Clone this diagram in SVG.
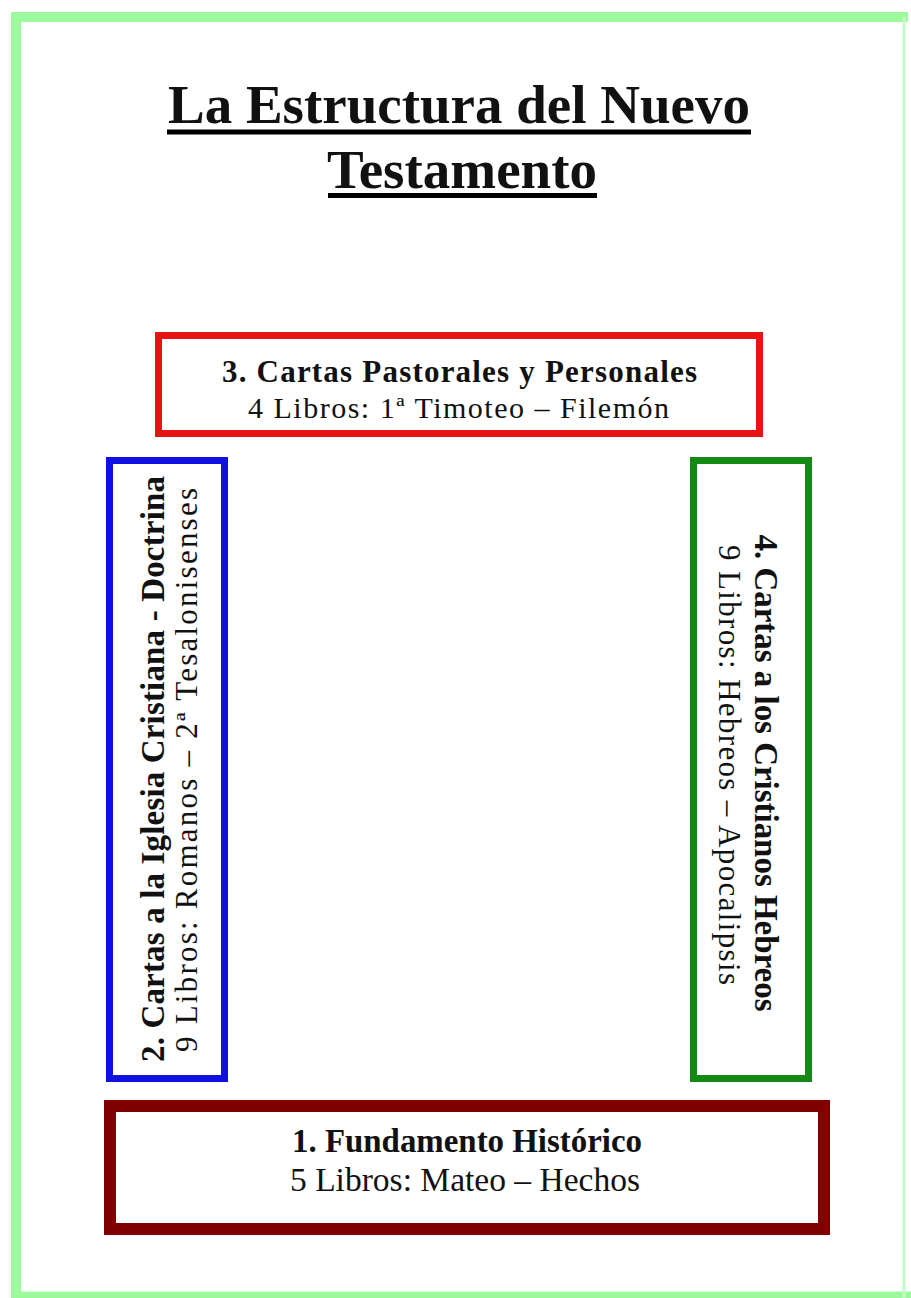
<svg xmlns="http://www.w3.org/2000/svg" width="911" height="1298" viewBox="0 0 911 1298">
<style>
.t{font-family:"Liberation Serif","Times New Roman",serif;fill:#111}
.b{font-weight:bold}
.box{fill:none}
</style>
<rect x="0" y="0" width="911" height="1298" fill="#ffffff"/>
<g id="frame">
<line x1="11" y1="17" x2="908" y2="17" stroke="#9cf99c" stroke-width="10"/>
<line x1="16" y1="12" x2="16" y2="1298" stroke="#9cf99c" stroke-width="10"/>
<line x1="11" y1="1295" x2="911" y2="1295" stroke="#9cf99c" stroke-width="7"/>
<line x1="904" y1="17" x2="904" y2="1298" stroke="#c6fbc6" stroke-width="3"/>
</g>
<g id="title">
<text class="t b" x="459" y="123" font-size="55" text-anchor="middle" fill="#000">La Estructura del Nuevo</text>
<rect x="167" y="129.5" width="584" height="5" fill="#000"/>
<text class="t b" x="462" y="188" font-size="55" text-anchor="middle" fill="#000">Testamento</text>
<rect x="328" y="193" width="269" height="5" fill="#000"/>
</g>
<g id="node3">
<rect class="box" x="158.5" y="335.5" width="601" height="98" stroke="#e81414" stroke-width="7"/>
<text class="t b" x="459.5" y="382" font-size="31" text-anchor="middle" textLength="475" lengthAdjust="spacing">3. Cartas Pastorales y Personales</text>
<text class="t" x="458.5" y="418" font-size="30" text-anchor="middle" textLength="421" lengthAdjust="spacing">4 Libros: 1ª Timoteo – Filemón</text>
</g>
<g id="node2">
<rect class="box" x="109.5" y="460.5" width="115" height="618" stroke="#1010e0" stroke-width="7"/>
<text class="t b" transform="translate(164,769) rotate(-90)" x="0" y="0" font-size="33" text-anchor="middle" textLength="586" lengthAdjust="spacing">2.  Cartas a la Iglesia Cristiana - Doctrina</text>
<text class="t" transform="translate(197,770) rotate(-90)" x="0" y="0" font-size="31" text-anchor="middle" textLength="564" lengthAdjust="spacing">9 Libros: Romanos – 2ª Tesalonisenses</text>
</g>
<g id="node4">
<rect class="box" x="693.5" y="460.5" width="115" height="618" stroke="#148a14" stroke-width="7"/>
<text class="t b" transform="translate(755,773) rotate(90)" x="0" y="0" font-size="33" text-anchor="middle" textLength="477" lengthAdjust="spacing">4. Cartas a los Cristianos Hebreos</text>
<text class="t" transform="translate(719,765) rotate(90)" x="0" y="0" font-size="31" text-anchor="middle" textLength="440" lengthAdjust="spacing">9 Libros: Hebreos – Apocalipsis</text>
</g>
<g id="node1">
<rect class="box" x="110" y="1106" width="714" height="123" stroke="#800000" stroke-width="12"/>
<text class="t b" x="467" y="1152" font-size="33" text-anchor="middle" textLength="350" lengthAdjust="spacingAndGlyphs">1. Fundamento Histórico</text>
<text class="t" x="465" y="1191" font-size="33" text-anchor="middle" textLength="350" lengthAdjust="spacingAndGlyphs">5 Libros: Mateo – Hechos</text>
</g>
<g id="connectors"></g>
</svg>
